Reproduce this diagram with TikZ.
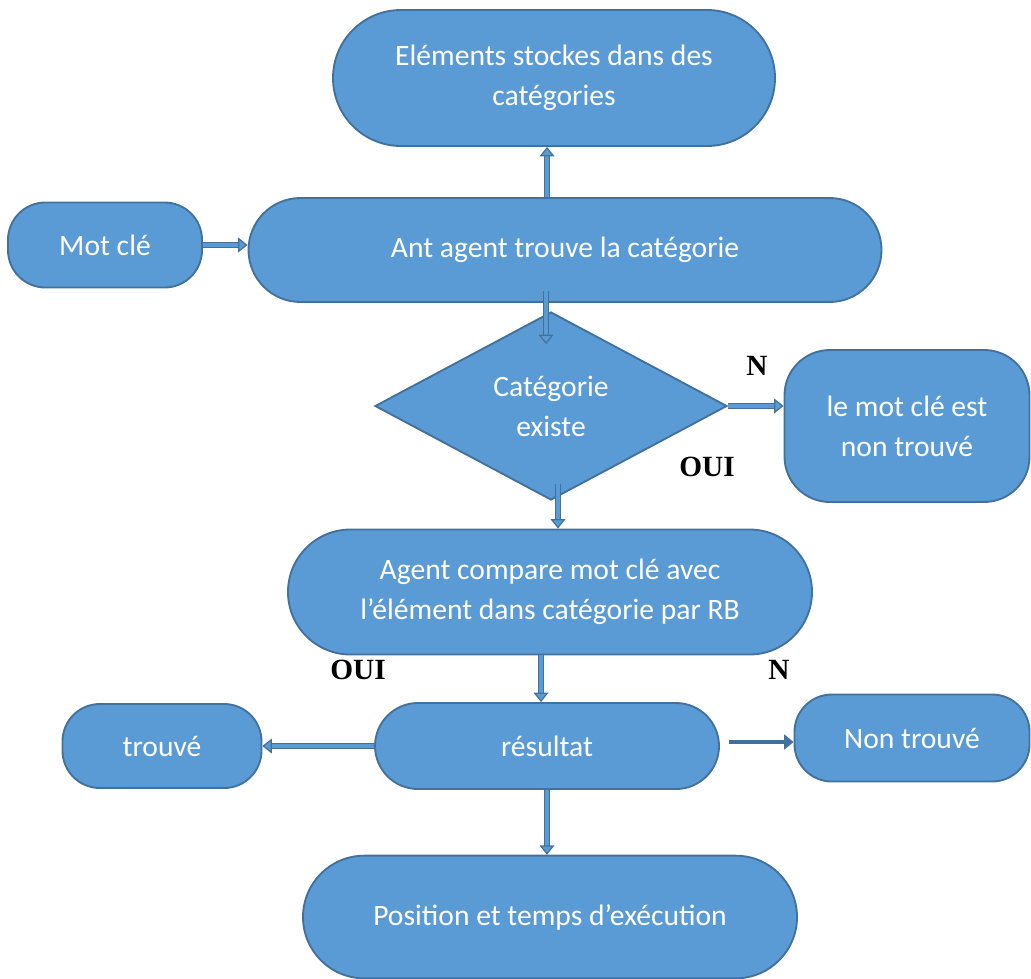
\documentclass[tikz,border=0pt]{standalone}
\usepackage{fontspec}
\setmainfont{Carlito}
\newfontfamily\labfont{Liberation Serif}
\usetikzlibrary{arrows.meta,shapes.geometric,shapes.misc}
\definecolor{fillblue}{HTML}{5B9BD5}
\definecolor{edgeblue}{HTML}{41719C}

\begin{document}
\begin{tikzpicture}[x=0.75pt, y=-0.75pt,
  base/.style={draw=edgeblue, line width=1.4pt, fill=fillblue, text=white, align=center, inner sep=0pt, font=\fontsize{22.2}{30}\selectfont},
  pill/.style={base, rounded rectangle},
  box/.style={base, rounded corners=28pt},
  test/.style={base, diamond},
  arr/.style={draw=edgeblue, line width=0.9pt, double=fillblue, double distance=3pt, -{Triangle[length=7pt, width=11pt, fill=fillblue]}},
  arrs/.style={draw=edgeblue, line width=2.6pt, -{Triangle[length=7pt, width=11pt]}},
  lab/.style={font=\labfont\bfseries\fontsize{22}{24}\selectfont}
]
\useasboundingbox (0,0) rectangle (1031,978);

\node[pill, minimum width=331.5pt, minimum height=102pt] (stock) at (554,78) {Eléments stockes dans des\\catégories};
\node[box, minimum width=145.5pt, minimum height=63.75pt] (mot) at (105,245) {Mot clé};
\node[pill, minimum width=474.75pt, minimum height=78pt] (ant) at (565,250) {Ant agent trouve la catégorie};
\node[test, minimum width=264pt, minimum height=141pt] (cat) at (551,406) {Catégorie\\existe};
\node[box, rounded corners=34pt, minimum width=183.75pt, minimum height=114pt] (nontr) at (907,426) {le mot clé est\\non trouvé};
\node[pill, minimum width=393pt, minimum height=93.75pt] (comp) at (550,592) {Agent compare mot clé avec\\l’élément dans catégorie par RB};
\node[box, minimum width=149.25pt, minimum height=63pt] (trouve) at (162,746) {trouvé};
\node[pill, minimum width=258pt, minimum height=64.5pt] (res) at (547,746) {résultat};
\node[box, minimum width=176.25pt, minimum height=65.25pt] (nontrouve) at (912,738) {Non trouvé};
\node[pill, minimum width=370.5pt, minimum height=92pt] (pos) at (550,917) {Position et temps d’exécution};

\node[lab] (n1) at (757,366) {N};
\node[lab] (oui1) at (707,467) {OUI};
\node[lab] (oui2) at (358,670) {OUI};
\node[lab] (n2) at (779,670) {N};

\draw[arr] ([xshift=-13.5pt]ant.north) -- ([xshift=-5.25pt]stock.south);
\draw[arr] (mot.east) -- ([yshift=3.75pt]ant.west);
\draw[arr] ([xshift=-14.25pt, yshift=9pt]ant.south) -- ([xshift=-3.75pt, yshift=-24.75pt]cat.north);
\draw[arr] (cat.east) -- (cat.east -| nontr.west);
\draw[arr] ([xshift=5.25pt, yshift=12.75pt]cat.south) -- ([xshift=6pt]comp.north);
\draw[arr] ([xshift=-6.75pt]comp.south) -- ([xshift=-4.5pt]res.north);
\draw[arr] (res.west) -- (trouve.east);
\draw[arrs] ([xshift=6.75pt, yshift=3pt]res.east) -- ([yshift=-3pt]nontrouve.west);
\draw[arr] (res.south) -- (res.south |- pos.north);
\end{tikzpicture}
\end{document}
